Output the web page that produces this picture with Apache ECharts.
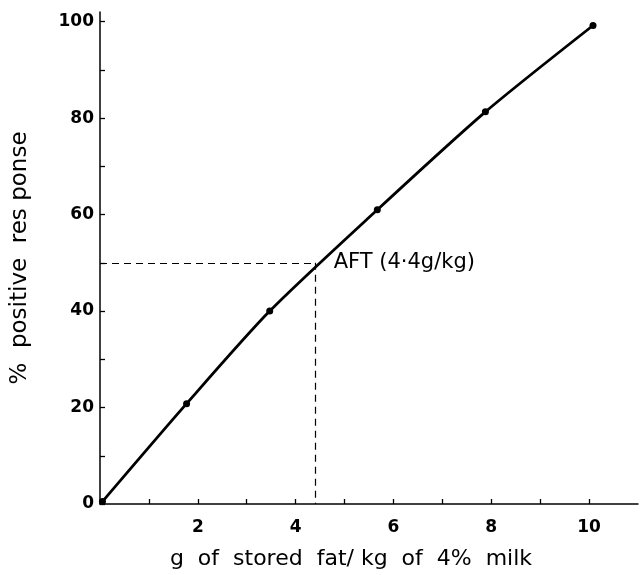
<!DOCTYPE html>
<html>
<head>
<meta charset="utf-8">
<script src="https://cdn.jsdelivr.net/npm/echarts@6/dist/echarts.min.js"></script>
<style>
html,body{margin:0;padding:0;background:#fff;}
#chart{width:643px;height:575px;}
</style>
</head>
<body>
<div id="chart"></div>
<script>
// Data
var fatValues = [0.05, 1.77, 3.47, 5.67, 7.88, 10.08];
var responseValues = [0.5, 20.8, 40.0, 61.0, 81.3, 99.2];
var aftX = 4.4;
var aftY = 50;
var aftLabel = 'AFT (4·4g/kg)';
var xLabelValues = [2, 4, 6, 8, 10];
var yLabelValues = [0, 20, 40, 60, 80, 100];
var xTitle = 'g  of  stored  fat/ kg  of  4%  milk';
var yTitle = '%  positive  res ponse';

var chart = echarts.init(document.getElementById('chart'), null, {renderer: 'canvas'});
var ink = '#000';
var font = 'DejaVu Sans';

chart.setOption({
  animation: false,
  backgroundColor: '#fff',
  grid: {left: 100, right: 5, top: 12, bottom: 70, containLabel: false},
  xAxis: {
    type: 'value', min: 0, max: 11, interval: 1,
    name: xTitle, nameLocation: 'middle', nameGap: 44,
    nameTextStyle: {color: ink, fontFamily: font, fontSize: 22, padding: [0, 36, 0, 0]},
    axisLine: {show: true, lineStyle: {color: ink, width: 1.5}},
    axisTick: {show: true, inside: true, length: 5, lineStyle: {color: ink, width: 1.3}},
    splitLine: {show: false},
    axisLabel: {
      color: ink, fontFamily: font, fontSize: 17, fontWeight: 'bold', margin: 15, showMaxLabel: false,
      formatter: function (v) { return xLabelValues.indexOf(v) >= 0 ? String(v) : ''; }
    }
  },
  yAxis: {
    type: 'value', min: 0, max: 102, interval: 10,
    name: yTitle, nameLocation: 'middle', nameGap: 68,
    nameTextStyle: {color: ink, fontFamily: font, fontSize: 23, padding: [0, 0, 0, 0]},
    axisLine: {show: true, lineStyle: {color: ink, width: 1.5}},
    axisTick: {show: true, inside: true, length: 5, lineStyle: {color: ink, width: 1.3}},
    splitLine: {show: false},
    axisLabel: {
      color: ink, fontFamily: font, fontSize: 17, fontWeight: 'bold', margin: 6, showMaxLabel: false,
      formatter: function (v) { return yLabelValues.indexOf(v) >= 0 ? String(v) : ''; }
    }
  },
  series: [
    {
      type: 'line',
      data: fatValues.map(function (x, i) { return [x, responseValues[i]]; }),
      smooth: 0.25,
      symbol: 'circle', symbolSize: 7,
      itemStyle: {color: ink},
      lineStyle: {color: ink, width: 2.8},
      markLine: {
        silent: true, symbol: 'none',
        lineStyle: {color: ink, width: 1.2, type: [7, 5], opacity: 1},
        label: {show: false},
        data: [
          [{coord: [0, aftY]}, {coord: [aftX, aftY]}],
          [{coord: [aftX, aftY]}, {coord: [aftX, 0]}]
        ]
      }
    },
    {
      type: 'scatter',
      data: [[aftX, aftY]],
      symbolSize: 1,
      itemStyle: {opacity: 0},
      silent: true,
      label: {
        show: true, position: 'right', distance: 18, opacity: 1,
        formatter: aftLabel,
        color: ink, fontFamily: font, fontSize: 21
      }
    }
  ]
});
</script>
</body>
</html>
